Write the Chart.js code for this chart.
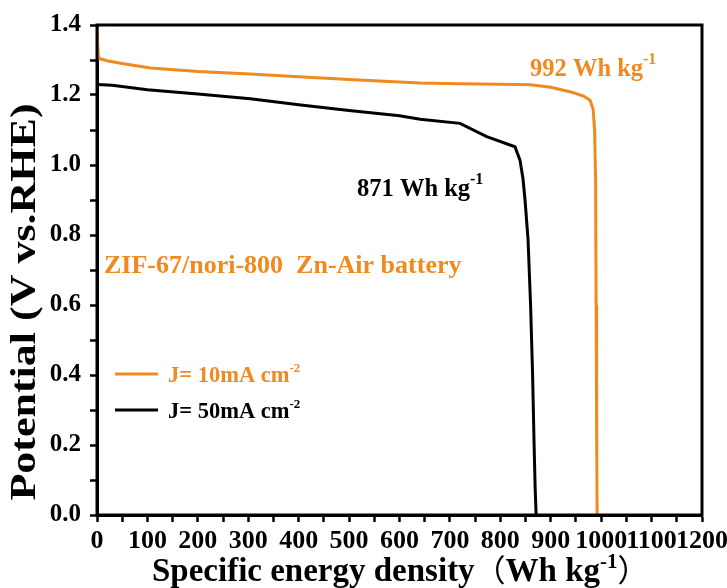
<!DOCTYPE html>
<html>
<head>
<meta charset="utf-8">
<script src="https://cdn.jsdelivr.net/npm/chart.js@4/dist/chart.umd.min.js"></script>
<style>
  html, body { margin: 0; padding: 0; background: #fff; }
  #c { display: block; }
</style>
</head>
<body>
<canvas id="c" width="727" height="588"></canvas>
<script>
// Discharge curves of the Zn-Air battery (specific energy density vs. potential)
const energy10 = [0, 1, 3, 20, 50, 106, 200, 304, 400, 500, 640, 720, 800, 860, 900, 944, 965, 978, 984, 987, 989, 990, 991, 992];
const potential10 = [1.40, 1.35, 1.305, 1.298, 1.29, 1.277, 1.267, 1.26, 1.252, 1.244, 1.234, 1.232, 1.231, 1.229, 1.222, 1.207, 1.197, 1.185, 1.16, 1.10, 0.95, 0.60, 0.25, 0.0];

const energy50 = [0, 30, 100, 200, 304, 400, 500, 600, 641, 720, 773, 829, 839, 845, 849, 855, 860, 864, 867, 869, 871];
const potential50 = [1.23, 1.228, 1.215, 1.203, 1.189, 1.172, 1.156, 1.141, 1.131, 1.119, 1.081, 1.052, 1.014, 0.96, 0.90, 0.786, 0.6, 0.4, 0.2, 0.08, 0.0];

const seriesNames = ['J= 10mA cm', 'J= 50mA cm'];
const capacityLabels = ['992', '871'];
const xTickLabels = [0, 100, 200, 300, 400, 500, 600, 700, 800, 900, 1000, 1100, 1200];
const yTickLabels = [0.0, 0.2, 0.4, 0.6, 0.8, 1.0, 1.2, 1.4];

const ORANGE = 'rgb(240,137,30)';
const BLACK = '#000';
const SERIF = '"Liberation Serif", "Times New Roman", serif';

function toPoints(xs, ys) { return xs.map((x, i) => ({ x, y: ys[i] })); }

// draw a run of text pieces one after another (for superscripts / mixed fonts)
function drawRuns(ctx, runs, x, y, color) {
  ctx.save();
  ctx.fillStyle = color;
  ctx.textBaseline = 'alphabetic';
  ctx.textAlign = 'left';
  let cx = x;
  for (const r of runs) {
    ctx.font = r.font;
    ctx.fillText(r.text, cx, y + (r.dy || 0));
    cx += ctx.measureText(r.text).width + (r.gap || 0);
  }
  ctx.restore();
  return cx;
}

const decorations = {
  id: 'decorations',
  afterDraw(chart) {
    const { ctx, chartArea: a } = chart;

    // plot frame
    ctx.save();
    ctx.strokeStyle = BLACK;
    ctx.lineWidth = 3;
    ctx.strokeRect(a.left, a.top, a.right - a.left, a.bottom - a.top);
    ctx.restore();

    // y axis title
    ctx.save();
    ctx.translate(26, 302);
    ctx.rotate(-Math.PI / 2);
    ctx.scale(1, 0.8);
    ctx.fillStyle = BLACK;
    ctx.font = 'bold 44px ' + SERIF;
    ctx.textAlign = 'center';
    ctx.textBaseline = 'middle';
    ctx.fillText('Potential (V vs.RHE)', 0, 0);
    ctx.restore();

    // x axis title
    drawRuns(ctx, [
      { text: 'Specific energy density', font: 'bold 33px ' + SERIF },
      { text: '（', font: '31px "Noto Sans CJK SC"' },
      { text: 'Wh kg', font: 'bold 33px ' + SERIF },
      { text: '-1', font: 'bold 21px ' + SERIF, dy: -13 },
      { text: '）', font: '31px "Noto Sans CJK SC"' }
    ], 152, 581, BLACK);

    // capacity labels
    const sup = 'bold 16px ' + SERIF;
    const lab = 'bold 24.5px ' + SERIF;
    drawRuns(ctx, [
      { text: capacityLabels[0] + ' Wh kg', font: lab },
      { text: '-1', font: sup, dy: -12 }
    ], 530, 76, ORANGE);
    drawRuns(ctx, [
      { text: capacityLabels[1] + ' Wh kg', font: lab },
      { text: '-1', font: sup, dy: -12 }
    ], 357, 196, BLACK);

    // sample description
    ctx.save();
    ctx.fillStyle = ORANGE;
    ctx.font = 'bold 26px ' + SERIF;
    ctx.textBaseline = 'alphabetic';
    ctx.fillText('ZIF-67/nori-800  Zn-Air battery', 104, 273);
    ctx.restore();

    // legend
    const legend = [
      { name: seriesNames[0], color: ORANGE, y: 374 },
      { name: seriesNames[1], color: BLACK, y: 410 }
    ];
    for (const item of legend) {
      ctx.save();
      ctx.strokeStyle = item.color;
      ctx.lineWidth = 3;
      ctx.beginPath();
      ctx.moveTo(115, item.y);
      ctx.lineTo(158, item.y);
      ctx.stroke();
      ctx.restore();
      drawRuns(ctx, [
        { text: item.name, font: 'bold 22.5px ' + SERIF },
        { text: '-2', font: 'bold 13px ' + SERIF, dy: -10 }
      ], 168, item.y + 8, item.color);
    }
  }
};

new Chart(document.getElementById('c'), {
  type: 'line',
  data: {
    datasets: [
      {
        label: seriesNames[0],
        data: toPoints(energy10, potential10),
        borderColor: ORANGE,
        borderWidth: 3,
        pointRadius: 0,
        tension: 0,
        fill: false
      },
      {
        label: seriesNames[1],
        data: toPoints(energy50, potential50),
        borderColor: BLACK,
        borderWidth: 3,
        pointRadius: 0,
        tension: 0,
        fill: false
      }
    ]
  },
  options: {
    responsive: false,
    animation: false,
    devicePixelRatio: 1,
    layout: { padding: { top: 25, right: 25, left: 0, bottom: 0 } },
    plugins: { legend: { display: false }, tooltip: { enabled: false } },
    scales: {
      x: {
        type: 'linear',
        min: 0,
        max: 1200,
        afterFit(scale) {
          scale.height = 73;
          scale.paddingLeft = 0;
          scale.paddingRight = 0;
        },
        ticks: {
          stepSize: 50,
          autoSkip: false,
          maxRotation: 0,
          minRotation: 0,
          padding: 4,
          color: BLACK,
          font: { family: SERIF, size: 26, weight: 'bold' },
          callback: (v) => xTickLabels.includes(v) ? String(v) : ''
        },
        grid: { drawOnChartArea: false, tickLength: 7, tickColor: BLACK, tickWidth: 2.5, color: BLACK },
        border: { display: true, color: BLACK, width: 3 }
      },
      y: {
        min: 0,
        max: 1.4,
        afterFit(scale) {
          scale.width = 97;
          scale.paddingTop = 0;
          scale.paddingBottom = 0;
        },
        ticks: {
          stepSize: 0.1,
          autoSkip: false,
          padding: 9,
          color: BLACK,
          font: { family: SERIF, size: 25, weight: 'bold' },
          callback: (v) => {
            const r = Math.round(v * 10) / 10;
            return yTickLabels.some(t => Math.abs(t - r) < 1e-9) ? r.toFixed(1) : '';
          }
        },
        grid: { drawOnChartArea: false, tickLength: 7, tickColor: BLACK, tickWidth: 2.5, color: BLACK },
        border: { display: true, color: BLACK, width: 3 }
      }
    }
  },
  plugins: [decorations]
});
</script>
</body>
</html>
